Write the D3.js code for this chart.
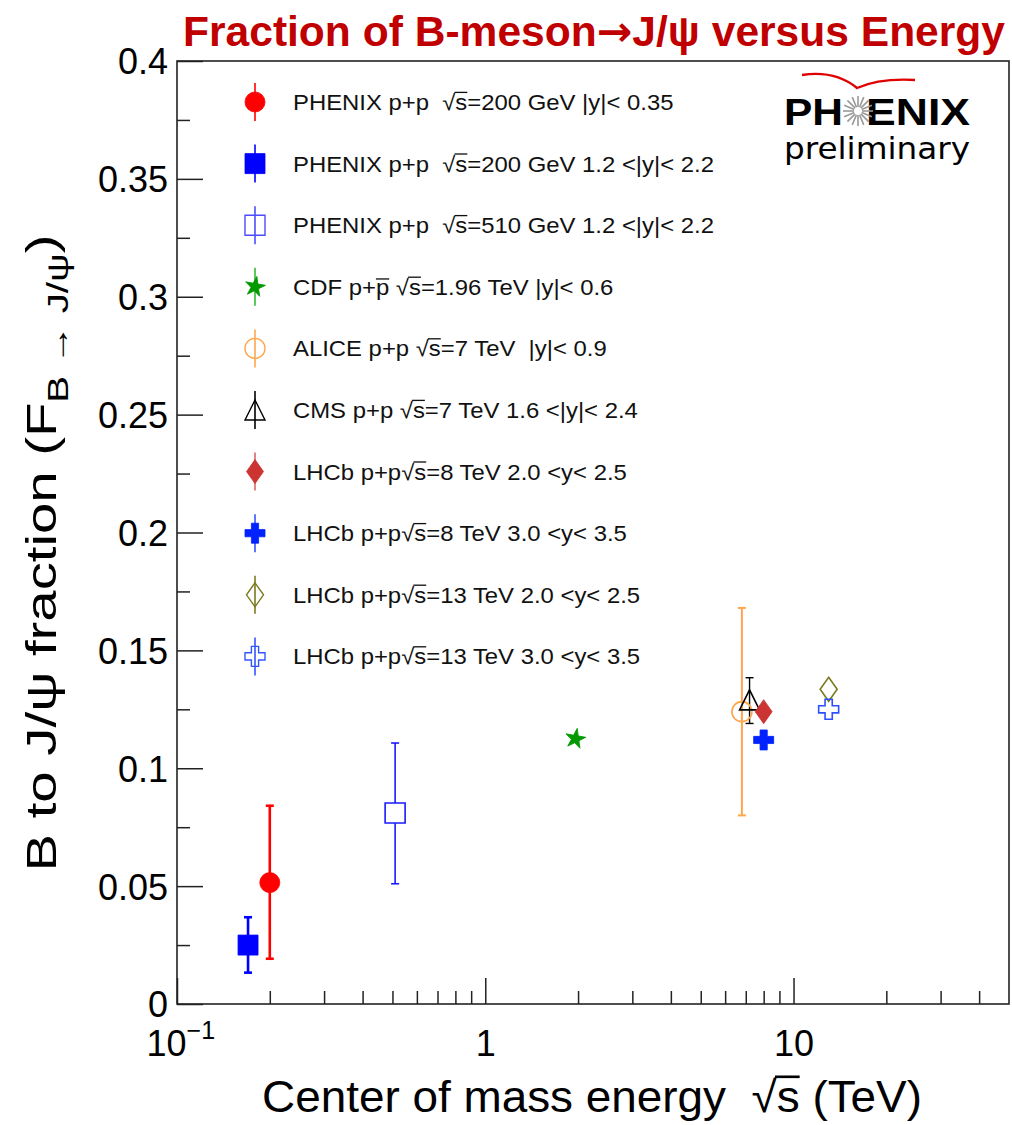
<!DOCTYPE html>
<html>
<head>
<meta charset="utf-8">
<script src="https://cdn.jsdelivr.net/npm/d3@7/dist/d3.min.js"></script>
<style>
  html, body { margin: 0; padding: 0; background: #fff; }
  svg { display: block; font-family: "Liberation Sans", Arial, Helvetica, sans-serif; }
  text { white-space: pre; }
</style>
</head>
<body>
<svg id="chart" width="1012" height="1125"></svg>
<script>
// ---------------- DATA ----------------
const legendLabels = [
  "PHENIX p+p  #sqrt{s}=200 GeV |y|< 0.35",
  "PHENIX p+p  #sqrt{s}=200 GeV 1.2 <|y|< 2.2",
  "PHENIX p+p  #sqrt{s}=510 GeV 1.2 <|y|< 2.2",
  "CDF p+#bar{p} #sqrt{s}=1.96 TeV |y|< 0.6",
  "ALICE p+p #sqrt{s}=7 TeV  |y|< 0.9",
  "CMS p+p #sqrt{s}=7 TeV 1.6 <|y|< 2.4",
  "LHCb p+p#sqrt{s}=8 TeV 2.0 <y< 2.5",
  "LHCb p+p#sqrt{s}=8 TeV 3.0 <y< 3.5",
  "LHCb p+p#sqrt{s}=13 TeV 2.0 <y< 2.5",
  "LHCb p+p#sqrt{s}=13 TeV 3.0 <y< 3.5"
];
const energies  = [0.2,    0.17,   0.51,  1.96,   6.8,   7.2,   8.0,   8.0,   13.0,   13.0];
const fractions = [0.0515, 0.025,  0.081, 0.1125, 0.124, 0.129, 0.124, 0.112, 0.1335, 0.125];
const fracLow   = [0.0192, 0.0133, 0.051, null,   0.080, 0.119, null,  null,  null,   null];
const fracHigh  = [0.0841, 0.0368, 0.1107,null,   0.168, 0.1384,null,  null,  null,   null];

const xTickMajor = [0.1, 1, 10];
const xTickMinor = [0.2,0.3,0.4,0.5,0.6,0.7,0.8,0.9,2,3,4,5,6,7,8,9,20,30,40];
const yTickMajor = [0, 0.05, 0.1, 0.15, 0.2, 0.25, 0.3, 0.35, 0.4];
const yTickLabels = ["0","0.05","0.1","0.15","0.2","0.25","0.3","0.35","0.4"];
const yTickMinor = [0.025, 0.075, 0.125, 0.175, 0.225, 0.275, 0.325, 0.375];

const titleParts = ["Fraction of B-meson", "\u2192", "J/\u03C8 versus Energy"];
const xAxisTitle = "Center of mass energy  #sqrt{s} (TeV)";

// ---------------- STYLE ----------------
const markerShape = ["circle","square","square","star","circle","triangle","diamond","cross","diamond","cross"];
const markerFilled = [true, true, false, true, false, false, true, true, false, false];
const markerColor = ["#ff0000","#0000ff","#1a1aff","#009900","#ffa64d","#000000","#cc3333","#0022ff","#7a7a1f","#2f4fff"];
const legendLineColor = ["#ff0000","#0000ff","#4d4dff","#33bb33","#ffa64d","#000000","#dd6666","#3355ff","#7a7a1f","#3355ff"];
const errWidth = [2.6, 2.6, 1.6, 1.5, 2, 1.4, 1.5, 1.5, 1.5, 1.5];

const M = {left: 177, right: 1009, top: 61, bottom: 1004};

const svg = d3.select("#chart");

const x = d3.scaleLog().domain([0.1, 50]).range([M.left, M.right]);
const y = d3.scaleLinear().domain([0, 0.4]).range([M.bottom, M.top]);

function markerPath(shape) {
  switch (shape) {
    case "circle": return d3.symbol(d3.symbolCircle, Math.PI * 10 * 10)();
    case "square": return "M-10,-10H10V10H-10Z";
    case "star": return d3.symbol(d3.symbolStar, 125)();
    case "triangle": return "M0,-10L10,10L-10,10Z";
    case "diamond": return "M0,-12L8.5,0L0,12L-8.5,0Z";
    case "cross": {
      const a = 10, t = 3.6;
      return `M${-t},${-a}H${t}V${-t}H${a}V${t}H${t}V${a}H${-t}V${t}H${-a}V${-t}H${-t}Z`;
    }
  }
}

// ROOT-like #sqrt{} / #bar{} markup -> tspans, with overlines drawn as lines
function richText(sel, str) {
  const re = /#(sqrt|bar)\{([^}]*)\}/g;
  let last = 0, m, n = 0;
  const bars = [];
  const add = s => { sel.append("tspan").text(s); n += s.length; };
  while ((m = re.exec(str)) !== null) {
    if (m.index > last) add(str.slice(last, m.index));
    if (m[1] === "sqrt") add("\u221A");
    bars.push({start: n, len: m[2].length, kind: m[1]});
    add(m[2]);
    last = re.lastIndex;
  }
  if (last < str.length) add(str.slice(last));
  return bars;
}
function drawBars(parent, textSel, bars, fs, color) {
  const node = textSel.node();
  const by = +textSel.attr("y");
  bars.forEach(b => {
    let x1 = node.getStartPositionOfChar(b.start).x;
    const x2 = node.getEndPositionOfChar(b.start + b.len - 1).x;
    if (b.kind === "sqrt") x1 = node.getEndPositionOfChar(b.start - 1).x - fs * 0.04;
    const yy = by - fs * (b.kind === "sqrt" ? 0.8 : 0.72);
    parent.append("line").attr("x1", x1).attr("x2", x2).attr("y1", yy).attr("y2", yy)
      .attr("stroke", color).attr("stroke-width", Math.max(1, fs * 0.06));
  });
}

// ---------------- AXES ----------------
svg.append("g")
  .attr("transform", `translate(0,${M.bottom})`)
  .call(d3.axisBottom(x).tickValues(xTickMinor).tickSize(-13).tickFormat(""))
  .call(g => g.select(".domain").remove())
  .call(g => g.selectAll("line").attr("stroke", "#222").attr("stroke-width", 1.5));
const gx = svg.append("g")
  .attr("transform", `translate(0,${M.bottom})`)
  .call(d3.axisBottom(x).tickValues(xTickMajor).tickSize(-26).tickPadding(0)
        .tickFormat(d => d === 0.1 ? "10" : d3.format("~g")(d)))
  .call(g => g.select(".domain").remove())
  .call(g => g.selectAll("line").attr("stroke", "#222").attr("stroke-width", 1.5));
gx.selectAll("text")
  .attr("font-size", 36).attr("fill", "#000")
  .attr("font-family", "'Liberation Sans', Arial, sans-serif")
  .attr("dy", null).attr("y", 52);
gx.selectAll(".tick").filter(d => d === 0.1).select("text")
  .attr("text-anchor", "start").attr("x", -31)
  .append("tspan").attr("font-size", 25).attr("dy", -17).text("\u22121");

svg.append("g")
  .attr("transform", `translate(${M.left},0)`)
  .call(d3.axisLeft(y).tickValues(yTickMinor).tickSize(-13).tickFormat(""))
  .call(g => g.select(".domain").remove())
  .call(g => g.selectAll("line").attr("stroke", "#222").attr("stroke-width", 1.5));
const gy = svg.append("g")
  .attr("transform", `translate(${M.left},0)`)
  .call(d3.axisLeft(y).tickValues(yTickMajor).tickSize(-26).tickPadding(9)
        .tickFormat((d, i) => yTickLabels[i]))
  .call(g => g.select(".domain").remove())
  .call(g => g.selectAll("line").attr("stroke", "#222").attr("stroke-width", 1.5));
gy.selectAll("text")
  .attr("font-size", 36).attr("fill", "#000")
  .attr("font-family", "'Liberation Sans', Arial, sans-serif")
  .attr("dy", "0.36em");

svg.append("rect")
  .attr("x", M.left).attr("y", M.top)
  .attr("width", M.right - M.left).attr("height", M.bottom - M.top)
  .attr("fill", "none").attr("stroke", "#222").attr("stroke-width", 1.6);

// ---------------- DATA POINTS ----------------
const idx = d3.range(energies.length);
const pts = svg.append("g");
idx.forEach(i => {
  const cx = x(energies[i]);
  if (fracLow[i] !== null) {
    const g = pts.append("g").attr("stroke", markerColor[i]).attr("stroke-width", errWidth[i]);
    g.append("line").attr("x1", cx).attr("x2", cx).attr("y1", y(fracLow[i])).attr("y2", y(fracHigh[i]));
    [fracLow[i], fracHigh[i]].forEach(v => {
      g.append("line").attr("x1", cx - 4).attr("x2", cx + 4).attr("y1", y(v)).attr("y2", y(v));
    });
  }
});
idx.forEach(i => {
  const cx = x(energies[i]), cy = y(fractions[i]);
  pts.append("path")
    .attr("d", markerPath(markerShape[i]))
    .attr("transform", `translate(${cx},${cy})${markerShape[i] === "star" ? " rotate(10)" : ""}`)
    .attr("fill", markerFilled[i] ? markerColor[i] : (markerShape[i] === "square" ? "#fff" : "none"))
    .attr("stroke", markerColor[i])
    .attr("stroke-width", markerFilled[i] ? 0.8 : 1.6);
});

// ---------------- LEGEND ----------------
const leg = svg.append("g");
legendLabels.forEach((lab, i) => {
  const cy = 102 + i * 61.6, cx = 255;
  leg.append("line").attr("x1", cx).attr("x2", cx).attr("y1", cy - 19).attr("y2", cy + 19)
    .attr("stroke", legendLineColor[i]).attr("stroke-width", 1.6);
  leg.append("path")
    .attr("d", markerPath(markerShape[i]))
    .attr("transform", `translate(${cx},${cy})${markerShape[i] === "star" ? " rotate(10)" : ""}`)
    .attr("fill", markerFilled[i] ? markerColor[i] : "none")
    .attr("stroke", markerFilled[i] ? markerColor[i] : legendLineColor[i])
    .attr("stroke-width", markerFilled[i] ? 0.8 : 1.4);
  const t = leg.append("text").attr("x", 293).attr("y", cy + 8)
    .attr("font-size", 22).attr("fill", "#111");
  const bars = richText(t, lab);
  const L = t.node().getComputedTextLength();
  t.attr("textLength", L * 1.085).attr("lengthAdjust", "spacingAndGlyphs");
  drawBars(leg, t, bars, 22, "#111");
});

// ---------------- TITLES ----------------
const tt = svg.append("text")
  .attr("x", 183).attr("y", 46)
  .attr("font-family", "'Liberation Sans Narrow', 'Liberation Sans', Arial, sans-serif")
  .attr("font-weight", "bold").attr("font-size", 42).attr("fill", "#c00000")
  .attr("textLength", 822).attr("lengthAdjust", "spacingAndGlyphs");
tt.append("tspan").text(titleParts[0]);
tt.append("tspan").attr("font-family", "'DejaVu Sans', sans-serif").text(titleParts[1]);
tt.append("tspan").text(titleParts[2]);

const xtG = svg.append("g");
const xt = xtG.append("text")
  .attr("x", 592).attr("y", 1112).attr("text-anchor", "middle")
  .attr("font-size", 44).attr("fill", "#000")
  .attr("textLength", 660).attr("lengthAdjust", "spacingAndGlyphs");
const xBars = richText(xt, xAxisTitle);
drawBars(xtG, xt, xBars, 44, "#000");

const yt = svg.append("text")
  .attr("transform", "translate(56,553) rotate(-90)")
  .attr("text-anchor", "middle")
  .attr("font-size", 42).attr("fill", "#000")
  .attr("textLength", 637).attr("lengthAdjust", "spacingAndGlyphs");
yt.append("tspan").text("B to J/\u03C8 fraction (F");
yt.append("tspan").attr("font-size", 30).attr("dy", 12).text("B \u2192 J/\u03C8");
yt.append("tspan").attr("dy", -12).text(")");

// ---------------- PHENIX LOGO ----------------
const logo = svg.append("g");
logo.append("path")
  .attr("d", "M802,75 Q835,70 857,88 Q880,78 915,80")
  .attr("fill", "none").attr("stroke", "#e00000").attr("stroke-width", 2.4);
logo.append("text").attr("x", 784).attr("y", 125)
  .attr("font-weight", "bold").attr("font-size", 37).attr("fill", "#000")
  .attr("textLength", 59).attr("lengthAdjust", "spacingAndGlyphs").text("PH");
logo.append("text").attr("x", 866).attr("y", 125)
  .attr("font-weight", "bold").attr("font-size", 37).attr("fill", "#000")
  .attr("textLength", 104).attr("lengthAdjust", "spacingAndGlyphs").text("ENIX");
const starC = [858, 111];
d3.range(16).forEach(k => {
  const a = k * Math.PI / 8;
  logo.append("line")
    .attr("x1", starC[0] + 4 * Math.cos(a)).attr("y1", starC[1] + 4 * Math.sin(a))
    .attr("x2", starC[0] + 15 * Math.cos(a)).attr("y2", starC[1] + 15 * Math.sin(a))
    .attr("stroke", "#999").attr("stroke-width", 1.6);
});
logo.append("text").attr("x", 784).attr("y", 159)
  .attr("font-family", "'DejaVu Sans', sans-serif")
  .attr("font-size", 31).attr("fill", "#000")
  .attr("textLength", 186).attr("lengthAdjust", "spacingAndGlyphs").text("preliminary");
</script>
</body>
</html>
